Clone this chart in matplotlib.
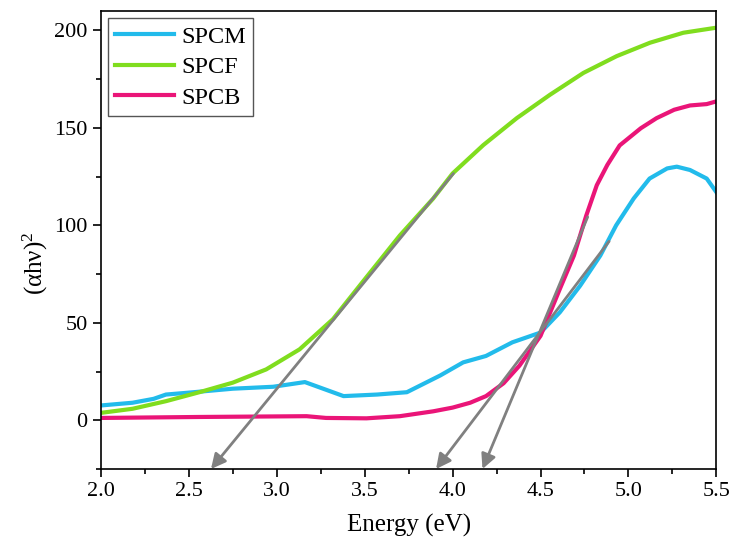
import matplotlib.pyplot as plt
from matplotlib.ticker import MultipleLocator

plt.rcParams['font.family'] = ['Liberation Serif', 'DejaVu Serif']
plt.rcParams['mathtext.fontset'] = 'custom'
plt.rcParams['mathtext.rm'] = 'Liberation Serif'
plt.rcParams['mathtext.it'] = 'Liberation Serif:italic'

# --- data ---
spcm_x = [2.0, 2.18, 2.30, 2.37, 2.49, 2.75, 2.98, 3.16, 3.38, 3.57, 3.74, 3.93, 4.06,
          4.19, 4.34, 4.50, 4.61, 4.725, 4.84, 4.93, 5.03, 5.12, 5.22, 5.275, 5.35,
          5.445, 5.5]
spcm_y = [7.6, 9.0, 11.0, 13.2, 14.1, 16.2, 17.2, 19.6, 12.4, 13.2, 14.4, 23.0, 29.7,
          33.0, 40.0, 45.0, 55.4, 69.0, 84.5, 100.0, 113.8, 124.0, 129.2, 130.1, 128.4,
          124.0, 117.0]

spcf_x = [2.0, 2.18, 2.37, 2.56, 2.75, 2.94, 3.13, 3.32, 3.51, 3.70, 3.89, 4.0, 4.175,
          4.365, 4.554, 4.744, 4.933, 5.123, 5.312, 5.5]
spcf_y = [3.8, 5.9, 9.8, 14.4, 19.3, 26.1, 36.4, 51.9, 73.4, 94.8, 113.8, 126.6, 141.2,
          155.0, 167.0, 178.2, 186.8, 193.7, 198.8, 201.4]

spcb_x = [2.0, 2.56, 3.17, 3.28, 3.51, 3.70, 3.89, 4.0, 4.1, 4.19, 4.29, 4.38, 4.50,
          4.61, 4.69, 4.76, 4.82, 4.88, 4.95, 5.07, 5.16, 5.26, 5.35, 5.445, 5.5]
spcb_y = [1.2, 1.7, 2.1, 1.2, 1.0, 2.1, 4.6, 6.5, 9.0, 12.4, 19.0, 28.0, 43.3,
          67.4, 84.5, 105.0, 120.6, 131.0, 141.0, 149.8, 155.0, 159.3, 161.5, 162.2, 163.6]

# tangent lines: (start point, arrow tip)
tangents = [((4.005, 126.6), (2.626, -25)),
            ((4.768, 104.3), (4.17, -25)),
            ((4.89, 91.8), (3.906, -25))]

fig = plt.figure(figsize=(7.31, 5.46), dpi=100)
ax = fig.add_axes([0.138, 0.141, 0.842, 0.839])

ax.plot(spcm_x, spcm_y, color='#22BBEB', lw=3, label='SPCM', solid_joinstyle='round')
ax.plot(spcf_x, spcf_y, color='#80DD1E', lw=3, label='SPCF', solid_joinstyle='round')
ax.plot(spcb_x, spcb_y, color='#EA1578', lw=3, label='SPCB', solid_joinstyle='round')

for start, tip in tangents:
    ax.annotate('', xy=tip, xytext=start,
                arrowprops=dict(arrowstyle='-|>', color='#808080', lw=2,
                                mutation_scale=22, shrinkA=0, shrinkB=0))

ax.set_xlim(2.0, 5.5)
ax.set_ylim(-25, 210)
ax.xaxis.set_minor_locator(MultipleLocator(0.25))
ax.yaxis.set_minor_locator(MultipleLocator(25))
ax.set_xticks([2.0, 2.5, 3.0, 3.5, 4.0, 4.5, 5.0, 5.5])
ax.set_xticklabels(['2.0', '2.5', '3.0', '3.5', '4.0', '4.5', '5.0', '5.5'])
ax.set_yticks([0, 50, 100, 150, 200])
ax.tick_params(which='major', direction='out', length=6, width=1.2, labelsize=16)
ax.tick_params(which='minor', direction='out', length=3.6, width=1.2)
for s in ax.spines.values():
    s.set_linewidth(1.2)

ax.set_xlabel('Energy (eV)', fontsize=18, labelpad=9)
ax.set_ylabel(r'(αhν)$^{2}$', fontsize=18)
ax.yaxis.set_label_coords(-0.082, 0.45)

leg = ax.legend(loc='upper left', fontsize=17.5, frameon=True, fancybox=False,
                edgecolor='#555555', framealpha=1, handlelength=2.4,
                borderaxespad=0.3, labelspacing=0.35, handletextpad=0.3,
                borderpad=0.3)
leg.get_frame().set_linewidth(1.0)

fig.savefig('out.png', dpi=100)
